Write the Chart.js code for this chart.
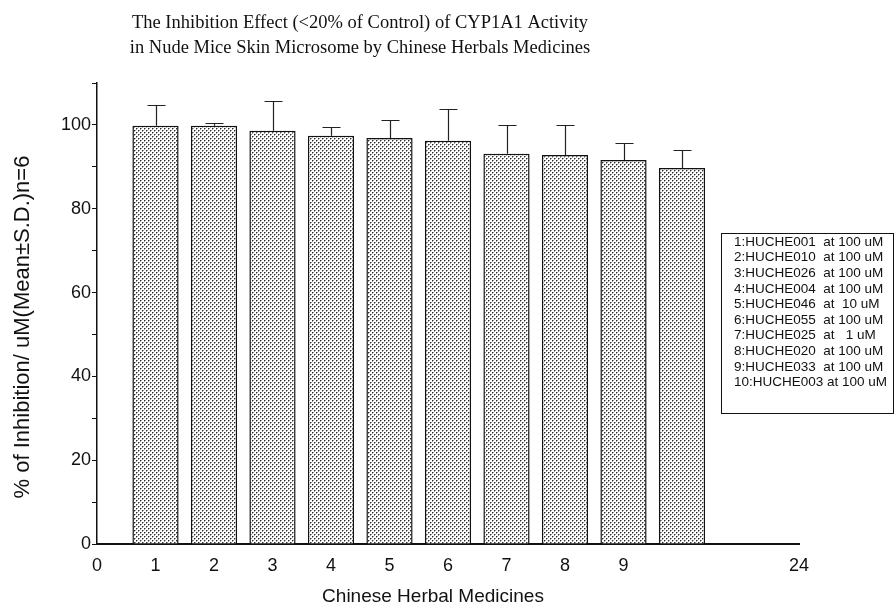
<!DOCTYPE html>
<html>
<head>
<meta charset="utf-8">
<script src="https://cdn.jsdelivr.net/npm/chart.js@4/dist/chart.umd.min.js"></script>
<style>
  html, body { margin: 0; padding: 0; background: #fff; }
  canvas { display: block; }
</style>
</head>
<body>
<canvas id="chart" width="896" height="613"></canvas>
<script>
// Herbal medicine sample numbers (bar positions on the x axis)
const herbIds = [1, 2, 3, 4, 5, 6, 7, 8, 9, 10];
// % inhibition of CYP1A1 activity, mean and S.D. (n=6)
const inhibitionMean = [99.8, 99.8, 98.6, 97.4, 96.9, 96.2, 93.1, 92.8, 91.6, 89.7];
const inhibitionSD   = [5.0, 0.7, 7.0, 2.1, 4.3, 7.5, 6.9, 7.2, 4.1, 4.3];
// x-axis tick positions and their printed labels
const xTickValues = [0, 1, 2, 3, 4, 5, 6, 7, 8, 9, 12];
const xTickLabels = ['0', '1', '2', '3', '4', '5', '6', '7', '8', '9', '24'];
const yTickLabelStep = 20;

const titleLines = [
  'The Inhibition Effect (<20% of Control) of CYP1A1 Activity',
  'in Nude Mice Skin Microsome by Chinese Herbals Medicines'
];
const xAxisTitle = 'Chinese Herbal Medicines';
const yAxisTitle = '% of Inhibition/ uM(Mean±S.D.)n=6';
const legendLines = [
  '1:HUCHE001  at 100 uM',
  '2:HUCHE010  at 100 uM',
  '3:HUCHE026  at 100 uM',
  '4:HUCHE004  at 100 uM',
  '5:HUCHE046  at  10 uM',
  '6:HUCHE055  at 100 uM',
  '7:HUCHE025  at   1 uM',
  '8:HUCHE020  at 100 uM',
  '9:HUCHE033  at 100 uM',
  '10:HUCHE003 at 100 uM'
];

const SANS = '"Liberation Sans", Arial, sans-serif';
const SERIF = '"Liberation Serif", "Times New Roman", serif';
const INK = '#111';

const canvas = document.getElementById('chart');
const ctx = canvas.getContext('2d');

// Stippled halftone fill for the bars
function stipplePattern() {
  const t = document.createElement('canvas');
  t.width = 4; t.height = 4;
  const g = t.getContext('2d');
  g.fillStyle = '#ffffff';
  g.fillRect(0, 0, 4, 4);
  g.fillStyle = '#9c9c9c';
  g.fillRect(1, 0, 1, 1);
  g.fillRect(0, 1, 1, 1);
  g.fillRect(3, 2, 1, 1);
  g.fillRect(2, 3, 1, 1);
  g.fillStyle = '#2a2a2a';
  g.fillRect(0, 0, 1, 1);
  g.fillRect(2, 2, 1, 1);
  return ctx.createPattern(t, 'repeat');
}

// Upper error bars (mean + S.D.)
const errorBars = {
  id: 'errorBars',
  afterDatasetsDraw(chart) {
    const { ctx, scales: { x, y } } = chart;
    ctx.save();
    ctx.strokeStyle = '#222';
    ctx.lineWidth = 1.2;
    herbIds.forEach((id, i) => {
      const px = Math.round(x.getPixelForValue(id)) + 0.5;
      const yBar = y.getPixelForValue(inhibitionMean[i]);
      const yTop = Math.round(y.getPixelForValue(inhibitionMean[i] + inhibitionSD[i])) + 0.5;
      ctx.beginPath();
      ctx.moveTo(px, yBar);
      ctx.lineTo(px, yTop);
      ctx.moveTo(px - 9, yTop);
      ctx.lineTo(px + 9, yTop);
      ctx.stroke();
    });
    ctx.restore();
  }
};

// Heading, axis titles and the boxed key of sample names
const annotations = {
  id: 'annotations',
  afterDraw(chart) {
    const c = chart.ctx;
    c.save();
    c.fillStyle = INK;
    c.textAlign = 'center';
    c.textBaseline = 'middle';
    c.font = '18.5px ' + SERIF;
    titleLines.forEach((line, i) => c.fillText(line, 360, 23 + i * 25));

    c.font = '19px ' + SANS;
    c.fillText(xAxisTitle, 433, 597);

    c.save();
    c.translate(23, 327);
    c.rotate(-Math.PI / 2);
    c.font = '22px ' + SANS;
    c.fillText(yAxisTitle, 0, 0);
    c.restore();

    const box = { left: 721, top: 233, right: 893, bottom: 413 };
    c.fillStyle = '#fff';
    c.fillRect(box.left, box.top, box.right - box.left, box.bottom - box.top);
    c.strokeStyle = INK;
    c.lineWidth = 1;
    c.strokeRect(box.left + 0.5, box.top + 0.5, box.right - box.left, box.bottom - box.top);
    c.fillStyle = INK;
    c.textAlign = 'left';
    c.font = '13.5px ' + SANS;
    legendLines.forEach((line, i) => c.fillText(line, 734, 242 + i * 15.6));
    c.restore();
  }
};

new Chart(ctx, {
  type: 'bar',
  data: {
    datasets: [{
      data: herbIds.map((id, i) => ({ x: id, y: inhibitionMean[i] })),
      backgroundColor: stipplePattern(),
      borderColor: INK,
      borderWidth: 1.5,
      barPercentage: 0.79,
      categoryPercentage: 1
    }]
  },
  options: {
    responsive: false,
    devicePixelRatio: 1,
    animation: false,
    layout: { padding: { top: 83, right: 97, left: 0, bottom: 0 } },
    plugins: {
      legend: { display: false },
      title: { display: false },
      tooltip: { enabled: false }
    },
    scales: {
      x: {
        type: 'linear',
        min: 0,
        max: 12,
        offset: false,
        grid: { display: false, drawTicks: false, offset: false },
        border: { display: true, color: INK, width: 2 },
        afterBuildTicks: (s) => { s.ticks = xTickValues.map(v => ({ value: v })); },
        afterFit: (s) => { s.height = 69; },
        ticks: {
          autoSkip: false,
          maxRotation: 0,
          padding: 11,
          color: INK,
          font: { family: SANS, size: 18 },
          callback: (v, i) => xTickLabels[i]
        }
      },
      y: {
        min: 0,
        max: 110,
        grid: { display: true, drawOnChartArea: false, tickLength: 5, color: INK, tickWidth: 1 },
        border: { display: true, color: INK, width: 1.5 },
        afterFit: (s) => { s.width = 97; },
        ticks: {
          stepSize: 10,
          padding: 1,
          color: INK,
          font: { family: SANS, size: 18 },
          callback: (v) => (v % yTickLabelStep === 0 && v <= 100 ? v : '')
        }
      }
    }
  },
  plugins: [errorBars, annotations]
});
</script>
</body>
</html>
